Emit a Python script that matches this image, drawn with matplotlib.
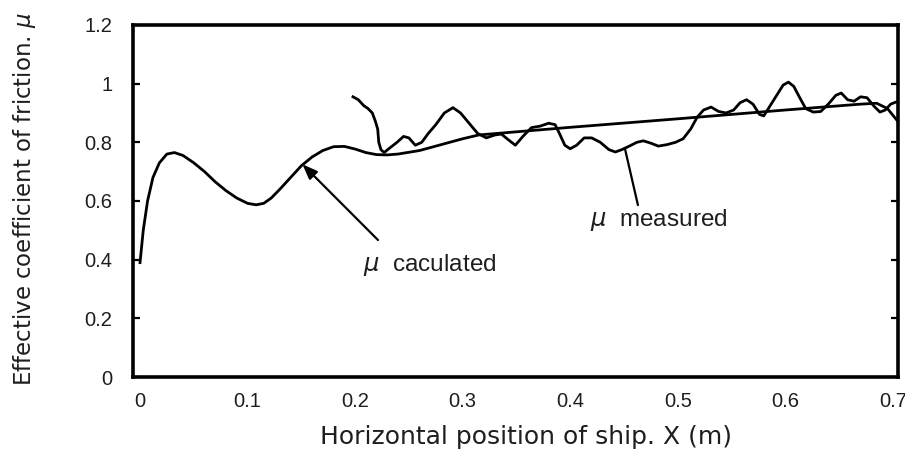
import matplotlib
matplotlib.use("Agg")
import matplotlib.pyplot as plt

# ---- data ----
calc_x = [0.000, 0.003, 0.007, 0.012, 0.018, 0.025, 0.032, 0.040, 0.050, 0.060,
          0.070, 0.080, 0.090, 0.100, 0.108, 0.115, 0.122, 0.130, 0.140, 0.150,
          0.160, 0.170, 0.180, 0.190, 0.200, 0.210, 0.220, 0.230, 0.240, 0.260,
          0.280, 0.300, 0.315, 0.400, 0.500, 0.600, 0.670, 0.685, 0.695, 0.705]
calc_mu = [0.39, 0.50, 0.60, 0.68, 0.73, 0.76, 0.765, 0.755, 0.73, 0.70,
           0.665, 0.635, 0.61, 0.592, 0.587, 0.592, 0.61, 0.64, 0.68, 0.72,
           0.75, 0.772, 0.785, 0.786, 0.777, 0.765, 0.758, 0.757, 0.760, 0.772,
           0.792, 0.812, 0.825, 0.851, 0.880, 0.910, 0.930, 0.933, 0.915, 0.87]

meas_x = [0.198, 0.203, 0.208, 0.212, 0.216, 0.219, 0.221, 0.222, 0.224, 0.227,
          0.232, 0.239, 0.245, 0.250, 0.256, 0.262, 0.268, 0.275, 0.283, 0.291,
          0.298, 0.306, 0.314, 0.322, 0.330, 0.336, 0.342, 0.349, 0.356, 0.364,
          0.372, 0.380, 0.386, 0.390, 0.395, 0.400, 0.406, 0.413, 0.420, 0.428,
          0.436, 0.442, 0.448, 0.455, 0.462, 0.468, 0.475, 0.482, 0.490, 0.498,
          0.505, 0.512, 0.518, 0.524, 0.531, 0.538, 0.545, 0.552, 0.558, 0.564,
          0.570, 0.576, 0.580, 0.586, 0.592, 0.598, 0.603, 0.608, 0.613, 0.619,
          0.626, 0.633, 0.640, 0.647, 0.652, 0.658, 0.664, 0.670, 0.676, 0.682,
          0.688, 0.693, 0.698, 0.705]
meas_mu = [0.955, 0.945, 0.925, 0.915, 0.90, 0.87, 0.845, 0.80, 0.775, 0.765,
           0.78, 0.80, 0.82, 0.815, 0.79, 0.80, 0.83, 0.86, 0.90, 0.918,
           0.90, 0.865, 0.83, 0.815, 0.825, 0.828, 0.81, 0.79, 0.82, 0.85,
           0.855, 0.865, 0.86, 0.83, 0.79, 0.778, 0.79, 0.815, 0.815, 0.80,
           0.775, 0.767, 0.775, 0.787, 0.80, 0.805, 0.797, 0.787, 0.792, 0.80,
           0.812, 0.845, 0.885, 0.91, 0.92, 0.905, 0.90, 0.91, 0.935, 0.945,
           0.93, 0.895, 0.89, 0.925, 0.96, 0.995, 1.005, 0.99, 0.955, 0.915,
           0.903, 0.905, 0.93, 0.96, 0.968, 0.945, 0.94, 0.955, 0.952, 0.925,
           0.903, 0.91, 0.93, 0.94]

x_ticks = [0, 0.1, 0.2, 0.3, 0.4, 0.5, 0.6, 0.7]
x_tick_labels = ["0", "0.1", "0.2", "0.3", "0.4", "0.5", "0.6", "0.7"]
y_ticks = [0, 0.2, 0.4, 0.6, 0.8, 1.0, 1.2]
y_tick_labels = ["0", "0.2", "0.4", "0.6", "0.8", "1", "1.2"]

plt.rcParams['font.family'] = ['Liberation Sans', 'DejaVu Sans']
txt_color = "#1e1e1e"

fig = plt.figure(figsize=(9.05, 4.61), dpi=100)
ax = fig.add_axes([0.147, 0.182, 0.845, 0.764])

ax.plot(calc_x, calc_mu, color="black", lw=2.0, solid_joinstyle="round")
ax.plot(meas_x, meas_mu, color="black", lw=2.0, solid_joinstyle="round")

ax.set_xlim(-0.0065, 0.7046)
ax.set_ylim(0, 1.2)
ax.set_xticks(x_ticks)
ax.set_xticklabels(x_tick_labels)
ax.set_yticks(y_ticks)
ax.set_yticklabels(y_tick_labels)

for s in ax.spines.values():
    s.set_linewidth(2.6)
ax.tick_params(axis="y", direction="in", length=5, width=1.6, left=True, right=True,
               labelsize=14.5, labelcolor=txt_color, pad=15)
ax.tick_params(axis="x", length=0, labelsize=14.5, labelcolor=txt_color, pad=11)

ax.set_xlabel("Horizontal position of ship. X (m)", fontsize=18,
              color=txt_color, family="DejaVu Sans")
ax.xaxis.set_label_coords(0.514, -0.137)
ax.set_ylabel(r"Effective coefficient of friction. $\mu$", fontsize=16.5,
              color=txt_color, family="DejaVu Sans")
ax.yaxis.set_label_coords(-0.124, 0.505)

# calculated annotation
ax.annotate("", xy=(0.151, 0.725), xytext=(0.2213, 0.467),
            arrowprops=dict(arrowstyle="-|>,head_length=0.9,head_width=0.35",
                            color="black", lw=1.6, shrinkA=0, shrinkB=0))
ax.text(0.2073, 0.382, r"$\mu$  caculated", fontsize=17.5, color=txt_color,
        va="center", ha="left")

# measured annotation
ax.annotate("", xy=(0.451, 0.777), xytext=(0.463, 0.586),
            arrowprops=dict(arrowstyle="-", color="black", lw=1.6,
                            shrinkA=0, shrinkB=0))
ax.text(0.4183, 0.535, r"$\mu$  measured", fontsize=17.5, color=txt_color,
        va="center", ha="left")

fig.savefig("out.png", dpi=100)
